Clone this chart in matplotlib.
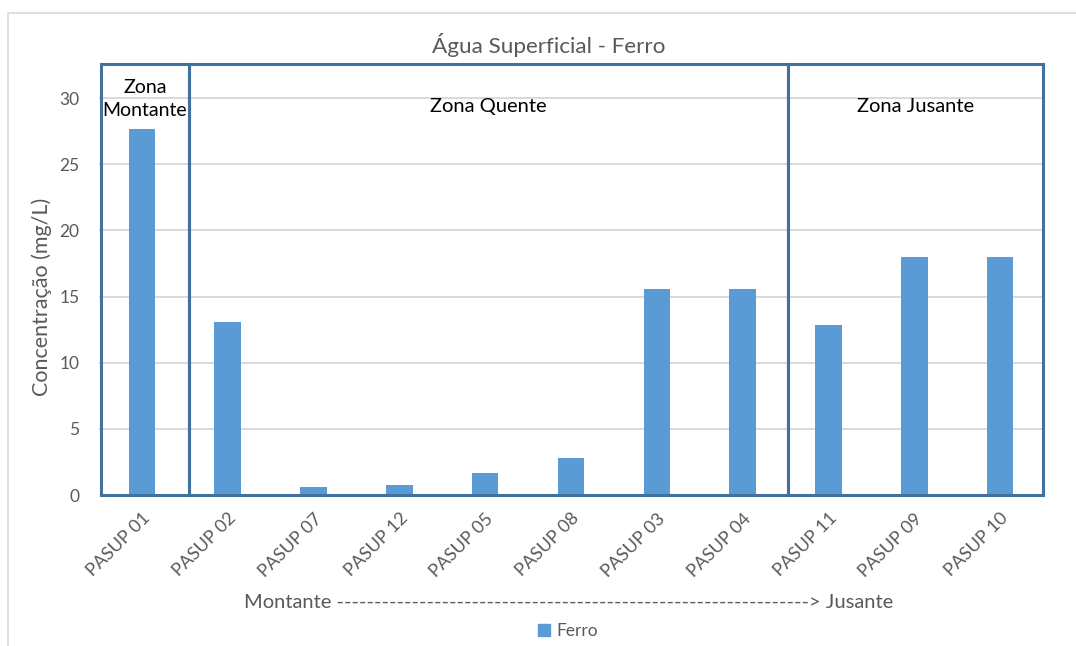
import matplotlib
matplotlib.use("Agg")
import matplotlib.pyplot as plt
from matplotlib.patches import Rectangle
import numpy as np

# Iron concentration per surface-water sampling point, upstream to downstream
pontos = ["PASUP 01", "PASUP 02", "PASUP 07", "PASUP 12", "PASUP 05", "PASUP 08",
          "PASUP 03", "PASUP 04", "PASUP 11", "PASUP 09", "PASUP 10"]
ferro = [27.7, 13.1, 0.6, 0.75, 1.65, 2.8, 15.6, 15.6, 12.85, 18.0, 18.0]

# Zones: label and the x-range (in category units) of the outlined box
zonas = ["Zona\nMontante", "Zona Quente", "Zona Jusante"]
limites_zonas = [-0.48, 0.55, 7.53, 10.5]
yticks = [0, 5, 10, 15, 20, 25, 30]

plt.rcParams["font.family"] = ["Lato", "DejaVu Sans"]
gray = "#595959"
bar_color = "#5B9BD5"
box_color = "#41719C"

fig = plt.figure(figsize=(10.76, 6.46), dpi=100)
# light outer chart border
fig.add_artist(Rectangle((8 / 1076, -0.1), 1.2, 1 - 13 / 646 + 0.1,
                         transform=fig.transFigure, fill=False,
                         edgecolor="#D9D9D9", linewidth=1.2))

ymax = 32.58
ax = fig.add_axes([99 / 1076, 151 / 646, 944 / 1076, 431 / 646])
x = np.arange(len(pontos))
ax.bar(x, ferro, width=0.31, color=bar_color, zorder=2)

ax.set_xlim(-0.5, len(pontos) - 0.5)
ax.set_ylim(0, ymax)
ax.set_yticks(yticks)
ax.set_yticklabels([str(v) for v in yticks], color=gray, fontsize=12.5)
ax.tick_params(axis="y", length=0, pad=14)
ax.tick_params(axis="x", length=0, pad=11)
ax.set_xticks(x)
ax.set_xticklabels(pontos, rotation=45, ha="right", va="top",
                   rotation_mode="anchor", color=gray, fontsize=13)
ax.grid(axis="y", color="#D9D9D9", linewidth=1.4, zorder=0)
for s in ax.spines.values():
    s.set_visible(False)

ax.set_ylabel("Concentração (mg/L)", color=gray, fontsize=15.5)
ax.yaxis.set_label_coords(-0.050, yticks[-1] / ymax / 2)

fig.text(569 / 1076, 1 - 603 / 646, "Montante " + "-" * 63 + "> Jusante",
         ha="center", va="center", color=gray, fontsize=14.5)

# zone boxes with their labels
for nome, a, b in zip(zonas, limites_zonas[:-1], limites_zonas[1:]):
    ax.add_patch(Rectangle((a, 0), b - a, ymax, fill=False,
                           edgecolor=box_color, linewidth=2.2, zorder=3,
                           clip_on=False))
    cx = (a + b) / 2
    if "\n" in nome:
        ax.text(cx, 29.95, nome, ha="center", va="center", fontsize=14,
                color="black", linespacing=1.4, zorder=4)
    else:
        ax.text(cx, 29.35, nome, ha="center", va="center", fontsize=14.5,
                color="black", zorder=4)

fig.text(549 / 1076, 1 - 45 / 646, "Água Superficial - Ferro", ha="center",
         va="center", color=gray, fontsize=16.2)

# legend
leg = fig.legend([Rectangle((0, 0), 1, 1, color=bar_color)], ["Ferro"],
                 loc="center", bbox_to_anchor=(568 / 1076, 1 - 631 / 646),
                 frameon=False, fontsize=12.5, handlelength=0.7,
                 handleheight=0.7, handletextpad=0.4)
for t in leg.get_texts():
    t.set_color(gray)

fig.savefig("out.png", dpi=100)
